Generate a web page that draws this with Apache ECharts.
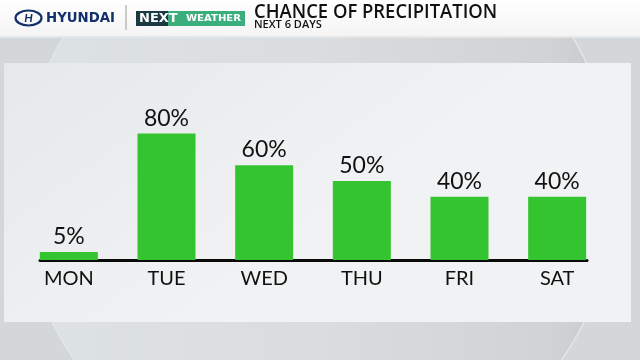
<!DOCTYPE html>
<html><head><meta charset="utf-8">
<script src="https://cdn.jsdelivr.net/npm/echarts@6/dist/echarts.min.js"></script>
<style>html,body{margin:0;padding:0;background:#d5d8da}#c{width:640px;height:360px}</style>
</head><body><div id="c"></div>
<script>
const days = ['MON','TUE','WED','THU','FRI','SAT'];
const chance = [5, 80, 60, 50, 40, 40];
const titleText = 'CHANCE OF PRECIPITATION';
const subtitleText = 'NEXT 6 DAYS';

const chart = echarts.init(document.getElementById('c'));
const FONT = 'Lato, "Open Sans", sans-serif';
chart.setOption({
  animation: false,
  backgroundColor: '#d4d7d9',
  graphic: [
    {type:'circle', z:-10, shape:{cx:318, cy:190, r:297},
     style:{fill:{type:'linear', x:0, y:0, x2:1, y2:0, colorStops:[{offset:0,color:'#dde2e4'},{offset:0.5,color:'#dadddf'},{offset:0.9,color:'#d0d2d4'},{offset:1,color:'#c4c6c8'}]},
            stroke:'#e0e7ea', lineWidth:1.5}},
    {type:'rect', z:-9, shape:{x:0, y:0, width:640, height:37},
     style:{fill:{type:'linear', x:0, y:0, x2:0, y2:1, colorStops:[{offset:0,color:'#ffffff'},{offset:1,color:'#f4f4f4'}]}}},
    {type:'rect', z:-9, shape:{x:0, y:36, width:640, height:2}, style:{fill:'#e4e6e7'}},
    {type:'rect', z:-8, shape:{x:4, y:63, width:627, height:259},
     style:{fill:{type:'linear', x:0, y:0, x2:0.3, y2:1, colorStops:[{offset:0,color:'#e5e9eb'},{offset:1,color:'#f1f2f3'}]}}},
    // Hyundai logo
    {type:'ellipse', z:5, shape:{cx:28.5, cy:18, rx:13, ry:7.5}, style:{fill:'none', stroke:'#13306a', lineWidth:2.2}},
    {type:'text', z:5, x:28.5, y:18, style:{text:'H', fill:'#13306a', font:'italic bold 12px ' + FONT, align:'center', verticalAlign:'middle'}},
    {type:'text', z:5, x:46, y:18, style:{text:'HYUNDAI', fill:'#13306a', font:'bold 14px "DejaVu Sans", sans-serif', verticalAlign:'middle'}, scaleX:0.95},
    {type:'rect', z:5, shape:{x:125.5, y:5, width:1, height:25}, style:{fill:'#9a9a9a'}},
    // NEXT WEATHER
    {type:'rect', z:5, shape:{x:164, y:11, width:81, height:15}, style:{fill:'#3aae7c'}},
    {type:'rect', z:5, shape:{x:136, y:11, width:32, height:15}, style:{fill:'#1b3a42'}},
    {type:'text', z:6, x:139, y:18.5, style:{text:'NEXT', fill:'#ffffff', font:'bold 13px "DejaVu Sans", sans-serif', verticalAlign:'middle'}},
    {type:'text', z:6, x:186, y:18.5, style:{text:'WEATHER', fill:'#ffffff', font:'bold 9px "DejaVu Sans", sans-serif', verticalAlign:'middle'}, scaleX:1.12},
    // titles
    {type:'text', z:6, x:254, y:3, style:{text:titleText, fill:'#111111', font:'600 19px "Open Sans", sans-serif'}, scaleX:0.97},
    {type:'text', z:6, x:254, y:19, style:{text:subtitleText, fill:'#111111', font:'600 11px "Open Sans", sans-serif'}}
  ],
  grid: [
    {left:20, right:34, top:102, bottom:100},
    {left:40, right:53, top:102, bottom:100}
  ],
  xAxis: [
    {type:'category', gridIndex:0, data:days,
     axisLine:{show:false}, axisTick:{show:false},
     axisLabel:{color:'#111111', fontSize:20, fontFamily:FONT, margin:9}},
    {type:'category', gridIndex:1, data:days,
     axisLine:{show:true, lineStyle:{color:'#0a0a0a', width:3}}, axisTick:{show:false}, axisLabel:{show:false}}
  ],
  yAxis: [
    {type:'value', gridIndex:0, min:0, max:100, show:false, splitLine:{show:false}},
    {type:'value', gridIndex:1, min:0, max:100, show:false, splitLine:{show:false}}
  ],
  series: [{
    type:'bar', xAxisIndex:0, yAxisIndex:0, data:chance, barWidth:58,
    itemStyle:{color:'#33c430'},
    label:{show:true, position:'top', distance:4, formatter:'{c}%', color:'#111111', fontSize:23, fontFamily:FONT}
  }]
});
</script></body></html>
